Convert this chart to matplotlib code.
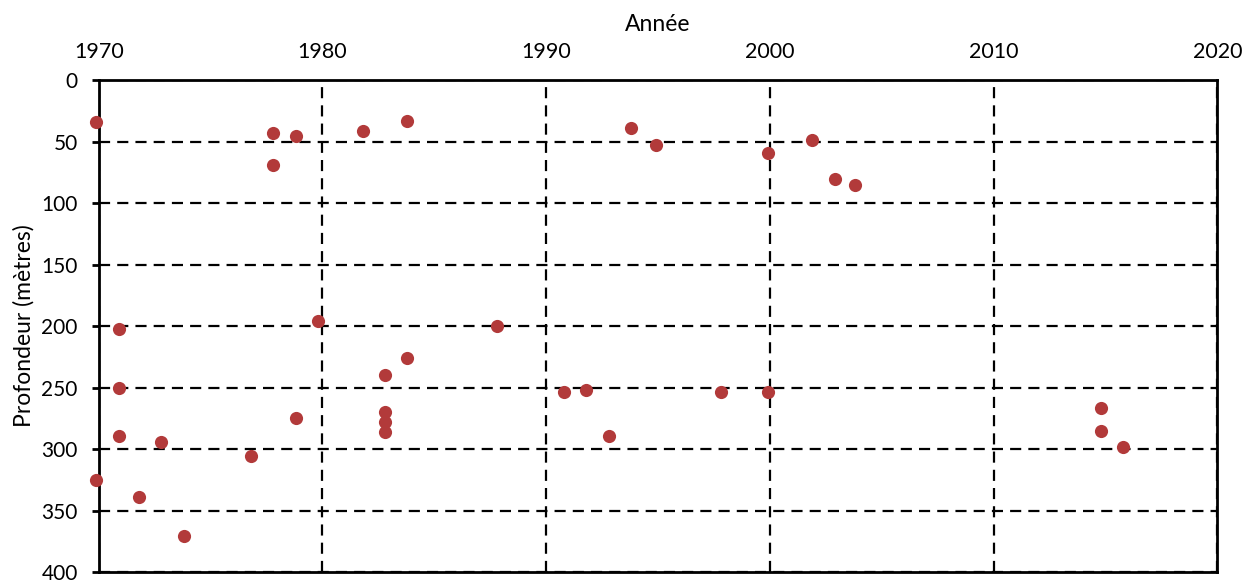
import matplotlib.pyplot as plt
from matplotlib.ticker import MultipleLocator

plt.rcParams['font.family'] = ['Lato', 'DejaVu Sans']

# année (axe du haut) et profondeur (m) de chaque point
annees = [1969.9, 1977.8, 1978.8, 1977.8, 1981.8, 1983.8, 1993.8, 1994.9,
          1999.9, 2001.9, 2002.9, 2003.8, 1970.9, 1979.8, 1987.8, 1970.9,
          1983.8, 1982.8, 1990.8, 1991.8, 1997.8, 1999.9, 1982.8, 1982.8,
          1982.8, 1978.8, 1970.9, 1972.8, 1992.8, 1976.8, 1969.9, 1971.8,
          1973.8, 2014.8, 2014.8, 2015.8]
profondeurs = [34, 43, 45, 69, 41, 33, 39, 53,
               59, 49, 80, 85, 202, 196, 200, 250,
               226, 240, 254, 252, 254, 254, 270, 278,
               286, 275, 289, 294, 289, 306, 325, 339,
               371, 267, 285, 298]

x_ticks = [1970, 1980, 1990, 2000, 2010, 2020]


def main():
    fig = plt.figure(figsize=(12.46, 5.81), dpi=100)
    ax = fig.add_axes([0.0792, 0.0155, 0.8978, 0.8465])

    ax.scatter(annees, profondeurs, s=90, color="#B23A3A", zorder=3,
               clip_on=False, linewidths=0)

    ax.set_xlim(1970, 2020)
    ax.set_ylim(400, 0)
    ax.xaxis.tick_top()
    ax.xaxis.set_label_position("top")
    ax.set_xticks(x_ticks)
    ax.yaxis.set_major_locator(MultipleLocator(50))

    ax.grid(True, color="black", linestyle=(0, (5, 3.2)), linewidth=1.6)
    ax.set_axisbelow(True)
    for sp in ax.spines.values():
        sp.set_linewidth(2.0)

    ax.tick_params(axis="x", length=0, pad=13, labelsize=15.5)
    ax.tick_params(axis="y", length=5, width=2.0, direction="out",
                   pad=10, labelsize=15)

    ax.set_xlabel("Année", fontsize=16.5, labelpad=8)
    ax.set_ylabel("Profondeur (mètres)", fontsize=16.5, labelpad=5)

    fig.savefig("out.png", dpi=100)


if __name__ == "__main__":
    main()
